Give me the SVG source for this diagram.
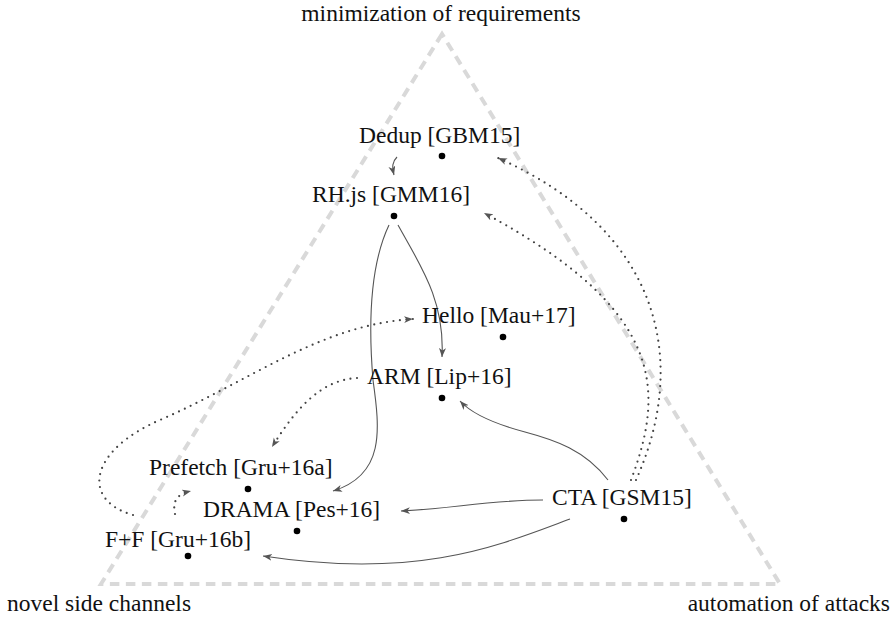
<svg xmlns="http://www.w3.org/2000/svg" width="896" height="617" viewBox="0 0 896 617">
<style>
  .lbl { font-family: "Liberation Serif", "Times New Roman", serif; font-size: 23.5px; fill: #111; }
  .tri { fill: none; stroke: #d9d9d9; stroke-width: 4; stroke-dasharray: 9.5 6.5; }
  .dot { fill: #000; }
  .solid { fill: none; stroke: #555; stroke-width: 1.1; marker-end: url(#arr); }
  .dotted { fill: none; stroke: #444; stroke-width: 2.2; stroke-linecap: round; stroke-dasharray: 0 6.5; marker-end: url(#arr); }
</style>
<defs>
  <marker id="arr" markerUnits="userSpaceOnUse" markerWidth="12" markerHeight="10" refX="9" refY="3.5" orient="auto">
    <path d="M0,0 L9,3.5 L0,7 L2.5,3.5 Z" fill="#555"/>
  </marker>
</defs>
<rect width="896" height="617" fill="#fff"/>
<g id="triangle">
  <path class="tri" d="M442,34 L101,584 L780,584 Z"/>
  <text class="lbl" x="441" y="21" text-anchor="middle">minimization of requirements</text>
  <text class="lbl" x="7" y="611">novel side channels</text>
  <text class="lbl" x="890" y="611" text-anchor="end">automation of attacks</text>
</g>
<g id="connectors">
  <path class="solid" d="M397,157 C 392,162 392,167 394,175"/>
  <path class="solid" d="M398,225 C 420,265 445,300 442,357"/>
  <path class="solid" d="M389,225 C 370,265 368,320 373,380 C 380,430 385,475 333,491"/>
  <path class="solid" d="M608,480 C 585,450 555,440 525,432 C 495,424 472,414 460,401"/>
  <path class="solid" d="M543,500 C 490,500 450,509 401,511"/>
  <path class="solid" d="M570,519 C 500,545 420,580 263,556"/>
  <path class="dotted" d="M636,480 C 690,360 660,230 498,158"/>
  <path class="dotted" d="M631,480 C 665,390 665,310 484,213"/>
  <path class="dotted" d="M357,378 C 320,380 295,410 272,447"/>
  <path class="dotted" d="M133,515 C 80,500 90,450 160,420 C 250,381 320,325 413,319"/>
  <path class="dotted" d="M175,514 C 172,500 178,494 191,491"/>
</g>
<g id="dedup">
  <text class="lbl" x="359" y="143">Dedup [GBM15]</text>
  <circle class="dot" cx="442" cy="156" r="3.3"/>
</g>
<g id="rhjs">
  <text class="lbl" x="312" y="202">RH.js [GMM16]</text>
  <circle class="dot" cx="394" cy="216" r="3.3"/>
</g>
<g id="hello">
  <text class="lbl" x="422" y="323">Hello [Mau+17]</text>
  <circle class="dot" cx="503" cy="337" r="3.3"/>
</g>
<g id="arm">
  <text class="lbl" x="367" y="384">ARM [Lip+16]</text>
  <circle class="dot" cx="442" cy="398" r="3.3"/>
</g>
<g id="prefetch">
  <text class="lbl" x="149" y="475">Prefetch [Gru+16a]</text>
  <circle class="dot" cx="248" cy="489" r="3.3"/>
</g>
<g id="drama">
  <text class="lbl" x="203" y="517">DRAMA [Pes+16]</text>
  <circle class="dot" cx="297" cy="531" r="3.3"/>
</g>
<g id="ff">
  <text class="lbl" x="105" y="547">F+F [Gru+16b]</text>
  <circle class="dot" cx="188" cy="556" r="3.3"/>
</g>
<g id="cta">
  <text class="lbl" x="552" y="505">CTA [GSM15]</text>
  <circle class="dot" cx="624" cy="519" r="3.3"/>
</g>
</svg>
